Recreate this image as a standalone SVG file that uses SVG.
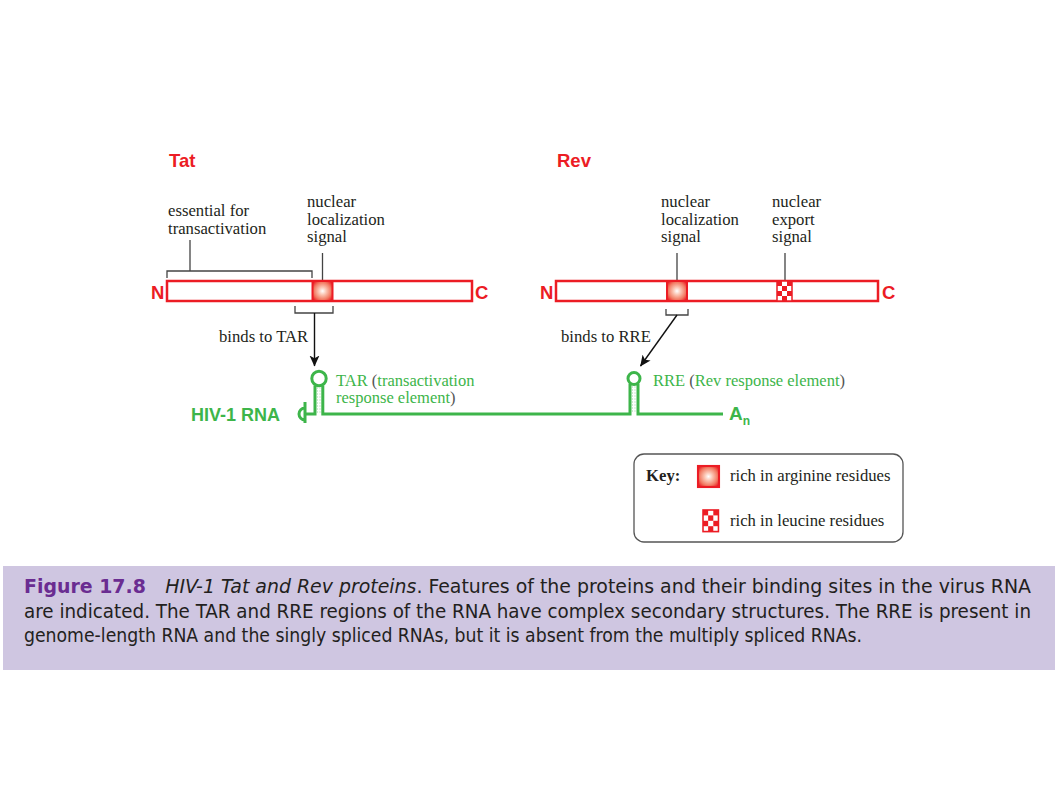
<svg xmlns="http://www.w3.org/2000/svg" width="1058" height="794" viewBox="0 0 1058 794">
<style>
.lab{font-family:"Liberation Serif","Times New Roman",serif;font-size:16.7px;fill:#231f20}
.red{font-family:"Liberation Sans",Arial,sans-serif;font-weight:bold;fill:#ec1c24}
.grn{font-family:"Liberation Serif","Times New Roman",serif;font-size:16.5px;fill:#3db54a}
.gb{font-family:"Liberation Sans",Arial,sans-serif;font-weight:bold;fill:#3db54a}
.par{fill:#555}
.bar{fill:#fff;stroke:#ec1c24;stroke-width:2.5}
.ptr{fill:none;stroke:#444;stroke-width:1.3}
.rna{fill:none;stroke:#3db54a;stroke-width:3;stroke-linejoin:miter}
.ladder{stroke:#9bd4a1;stroke-width:1;stroke-dasharray:1 1.5}
.cap{font-family:"Liberation Sans Narrow","DejaVu Sans Condensed","Roboto Condensed","Liberation Sans",sans-serif;font-size:19px;fill:#231f20}
</style>
<defs>
<radialGradient id="argGrad" cx="0.5" cy="0.5" r="0.62">
<stop offset="0" stop-color="#ffffff"/>
<stop offset="0.3" stop-color="#fbc6b4"/>
<stop offset="0.7" stop-color="#f27a62"/>
<stop offset="1" stop-color="#ec1c24"/>
</radialGradient>
<marker id="arr" viewBox="0 0 10 10" refX="9.5" refY="5" markerWidth="11" markerHeight="11" markerUnits="userSpaceOnUse" orient="auto">
<path d="M0,0.5 L10,5 L0,9.5 L2.5,5 z" fill="#111"/>
</marker>
<g id="arg">
<rect x="0" y="0" width="20" height="20" fill="url(#argGrad)" stroke="#ec1c24" stroke-width="2"/>
</g>
<g id="leu">
<rect x="0" y="0" width="15" height="20" fill="#fff"/>
<g fill="#ec1c24">
<rect x="0" y="0" width="5" height="5"/><rect x="10" y="0" width="5" height="5"/>
<rect x="5" y="5" width="5" height="5"/>
<rect x="0" y="10" width="5" height="5"/><rect x="10" y="10" width="5" height="5"/>
<rect x="5" y="15" width="5" height="5"/>
</g>
<rect x="0" y="0" width="15" height="20" fill="none" stroke="#ec1c24" stroke-width="1.5"/>
</g>
</defs>
<rect width="1058" height="794" fill="#fff"/>

<g id="tat">
<text class="red" x="169" y="167" font-size="18.5">Tat</text>
<text class="lab" x="168" y="216">essential for</text>
<text class="lab" x="168" y="234">transactivation</text>
<text class="lab" x="307" y="207">nuclear</text>
<text class="lab" x="307" y="224.5">localization</text>
<text class="lab" x="307" y="242">signal</text>
<path class="ptr" d="M167,278 V271 H312 V278 M190,271 V240 M322.5,253 V281"/>
<text class="red" x="151" y="298.5" font-size="18.5">N</text>
<rect class="bar" x="167" y="281" width="305" height="20"/>
<use href="#arg" x="312.5" y="281"/>
<text class="red" x="475" y="298.5" font-size="18.5">C</text>
<path class="ptr" d="M295,306 V313 H333 V306"/>
</g>

<g id="rev">
<text class="red" x="557" y="167" font-size="18.5">Rev</text>
<text class="lab" x="661" y="207">nuclear</text>
<text class="lab" x="661" y="224.5">localization</text>
<text class="lab" x="661" y="242">signal</text>
<text class="lab" x="772" y="207">nuclear</text>
<text class="lab" x="772" y="224.5">export</text>
<text class="lab" x="772" y="242">signal</text>
<path class="ptr" d="M677,253 V281 M785,253 V281"/>
<text class="red" x="540" y="298.5" font-size="18.5">N</text>
<rect class="bar" x="556" y="281" width="322" height="20"/>
<use href="#arg" x="667" y="281"/>
<use href="#leu" x="777" y="281"/>
<text class="red" x="882" y="298.5" font-size="18.5">C</text>
<path class="ptr" d="M666,309 V315 H688 V309"/>
</g>

<g id="connectors">
<line x1="314.5" y1="313" x2="314.5" y2="366" stroke="#111" stroke-width="1.4" marker-end="url(#arr)"/>
<line x1="677" y1="315" x2="640.5" y2="366" stroke="#111" stroke-width="1.4" marker-end="url(#arr)"/>
<text class="lab" x="219" y="342">binds to TAR</text>
<text class="lab" x="561" y="342">binds to RRE</text>
</g>

<g id="rna">
<text class="gb" x="191" y="421" font-size="18">HIV-1 RNA</text>
<path class="rna" d="M305,402 V423 M305,408 A6,6 0 0 0 305,420 M305,414 H315 V385.5"/>
<circle cx="319" cy="378.5" r="7.2" class="rna"/>
<path class="rna" d="M322.8,385.5 V414 H630 V384"/>
<path class="ladder" d="M317,388 H321 M317,391 H321 M317,394 H321 M317,397 H321 M317,400 H321 M317,403 H321 M317,406 H321 M317,409 H321 M317,412 H321"/>
<circle cx="634" cy="378.5" r="6" class="rna"/>
<path class="rna" d="M638,384 V414 H723"/>
<path class="ladder" d="M632,387 H636 M632,390 H636 M632,393 H636 M632,396 H636 M632,399 H636 M632,402 H636 M632,405 H636 M632,408 H636 M632,411 H636"/>
<text class="gb" x="729" y="420" font-size="19">A<tspan font-size="12" dy="5">n</tspan></text>
<text class="grn" x="336" y="385.5">TAR <tspan class="par">(</tspan>transactivation</text>
<text class="grn" x="336" y="403">response element<tspan class="par">)</tspan></text>
<text class="grn" x="653" y="386">RRE <tspan class="par">(</tspan>Rev response element<tspan class="par">)</tspan></text>
</g>

<g id="key">
<rect x="634" y="454" width="269" height="88" rx="10" fill="#fff" stroke="#555" stroke-width="1.3"/>
<text class="lab" x="646" y="481" font-weight="bold">Key:</text>
<use href="#arg" transform="translate(698,466) scale(1.05)"/>
<text class="lab" x="730" y="481">rich in arginine residues</text>
<use href="#leu" transform="translate(703,510) scale(1.03,1.08)"/>
<text class="lab" x="730" y="526">rich in leucine residues</text>
</g>

<g id="caption">
<rect x="3" y="566" width="1052" height="104" fill="#cfc6e1"/>
<text class="cap" x="24" y="593" textLength="1007" lengthAdjust="spacingAndGlyphs"><tspan font-weight="bold" fill="#6a2c91">Figure 17.8</tspan> <tspan font-style="italic" dx="12">HIV-1 Tat and Rev proteins</tspan>. Features of the proteins and their binding sites in the virus RNA</text>
<text class="cap" x="24" y="617.5" textLength="1007" lengthAdjust="spacingAndGlyphs">are indicated. The TAR and RRE regions of the RNA have complex secondary structures. The RRE is present in</text>
<text class="cap" x="24" y="642" textLength="838" lengthAdjust="spacingAndGlyphs">genome-length RNA and the singly spliced RNAs, but it is absent from the multiply spliced RNAs.</text>
</g>
</svg>
